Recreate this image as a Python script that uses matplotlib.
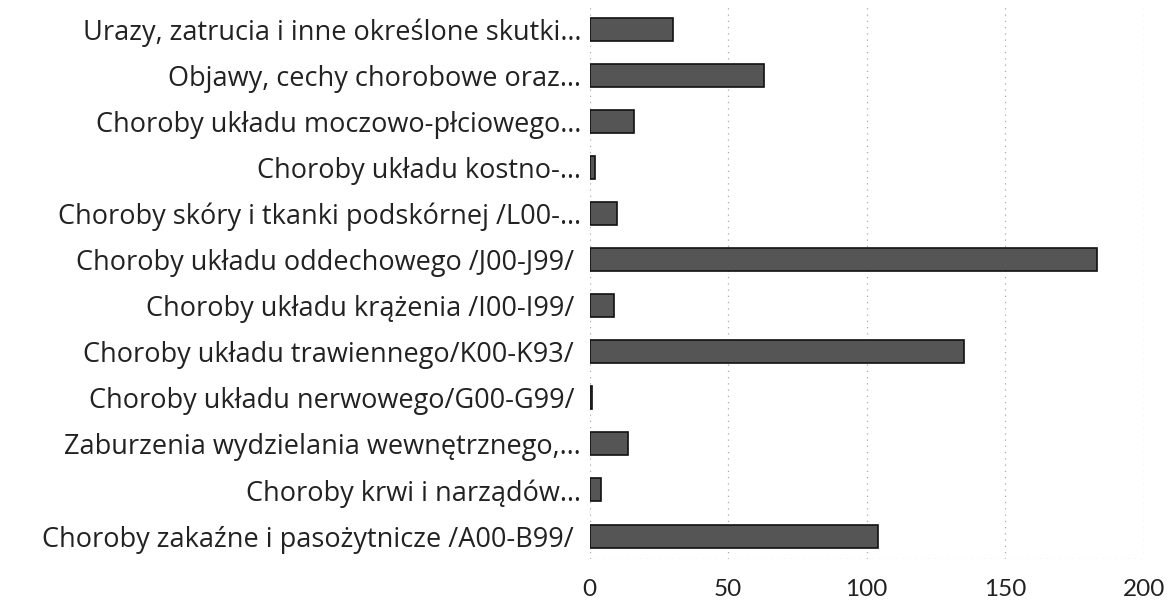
import matplotlib
matplotlib.use("Agg")
import matplotlib.pyplot as plt

categories = [
    "Choroby zakaźne i pasożytnicze /A00-B99/ ",
    "Choroby krwi i narządów…",
    "Zaburzenia wydzielania wewnętrznego,…",
    "Choroby układu nerwowego/G00-G99/ ",
    "Choroby układu trawiennego/K00-K93/ ",
    "Choroby układu krążenia /I00-I99/ ",
    "Choroby układu oddechowego /J00-J99/ ",
    "Choroby skóry i tkanki podskórnej /L00-…",
    "Choroby układu kostno-…",
    "Choroby układu moczowo-płciowego…",
    "Objawy, cechy chorobowe oraz…",
    "Urazy, zatrucia i inne określone skutki…",
]
values = [104, 4, 14, 1, 135, 9, 183, 10, 2, 16, 63, 30]
xticks = [0, 50, 100, 150, 200]

plt.rcParams['font.family'] = ['Open Sans', 'DejaVu Sans']

fig = plt.figure(figsize=(11.72, 6.09), dpi=100)
ax = fig.add_axes([0.503, 0.082, 0.473, 0.908])
ax.barh(range(len(categories)), values, height=0.5, color='#555555',
        edgecolor='#111111', linewidth=1.2, zorder=3)
ax.set_xlim(0, 200)
ax.set_ylim(-0.5, len(categories) - 0.5)
ax.set_yticks(range(len(categories)))
ax.set_yticklabels(categories, fontsize=19.5, color='#222222')
ax.set_xticks(xticks)
ax.set_xticklabels([str(t) for t in xticks], fontsize=17.5, color='#222222',
                   family=['Lato', 'DejaVu Sans'])
ax.tick_params(axis='y', length=0, pad=6)
ax.tick_params(axis='x', length=0, pad=14)
for s in ax.spines.values():
    s.set_visible(False)
ax.grid(axis='x', color='#aaaaaa', linestyle=(0, (1, 4)), linewidth=0.9, zorder=0)
ax.axhline(-0.5, color='#aaaaaa', linestyle=(0, (1, 4)), linewidth=0.9, zorder=0)
fig.savefig("out.png", dpi=100, facecolor='white')
